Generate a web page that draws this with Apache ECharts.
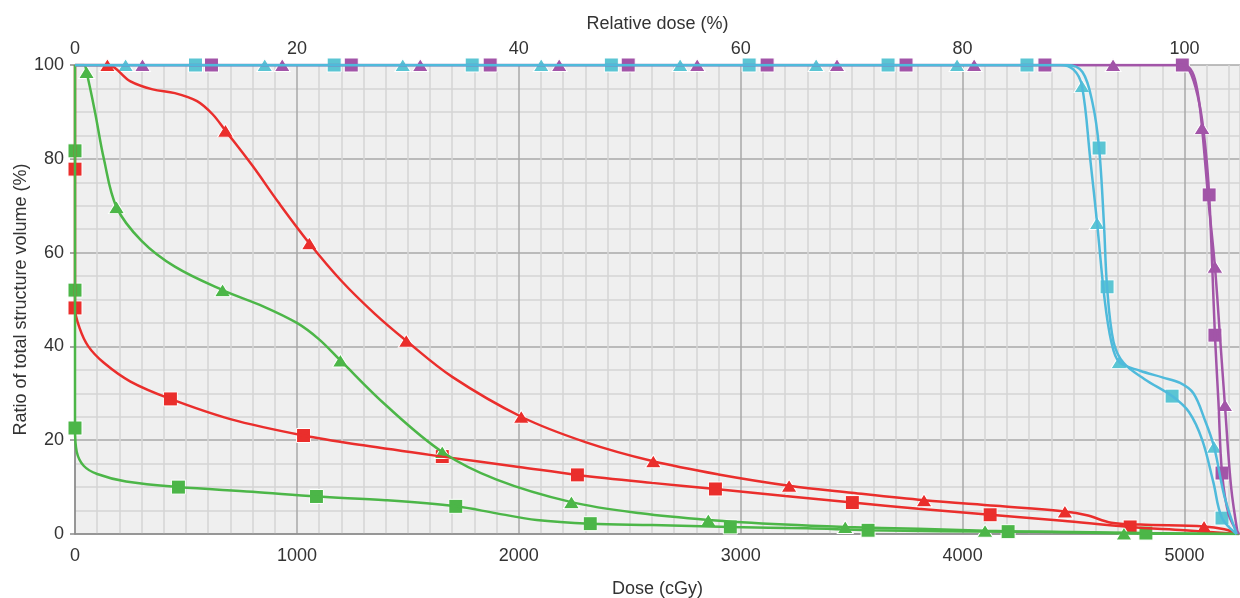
<!DOCTYPE html>
<html><head><meta charset="utf-8">
<script src="https://cdn.jsdelivr.net/npm/echarts@6/dist/echarts.min.js"></script>
<style>html,body{margin:0;padding:0;background:#fff}#c{width:1240px;height:598px}</style>
</head><body><div id="c"></div><script>
// Axis settings
const doseTicks = [0, 1000, 2000, 3000, 4000, 5000];
const relTicks = [0, 20, 40, 60, 80, 100];
const volTicks = [0, 20, 40, 60, 80, 100];

// Red, triangle markers
const redTriCurve = [[0,100],[146,100],[250,96.5],[350,94.8],[450,94],[550,92.3],[620,89.5],[678,86],[800,78.5],[920,70.5],[1056,62],[1200,54],[1350,47],[1493,41.2],[1700,33.5],[2011,25],[2300,19.6],[2606,15.5],[2900,12.7],[3218,10.3],[3500,8.8],[3826,7.2],[4150,6],[4461,4.8],[4560,4],[4670,2.4],[4800,2],[5088,1.6],[5180,1],[5245,0]];
const redTriMarks = [[146,100],[678,86],[1056,62],[1493,41.2],[2011,25],[2606,15.5],[3218,10.3],[3826,7.2],[4461,4.8],[5088,1.6]];

// Red, square markers
const redSqCurve = [[0,100],[0,77.8],[0,48.2],[20,44],[60,40],[130,36.5],[250,32.5],[430,28.8],[700,24.5],[1030,21],[1300,18.9],[1655,16.5],[2000,14.3],[2264,12.6],[2600,10.9],[2886,9.6],[3200,8.1],[3503,6.7],[3800,5.4],[4124,4.1],[4450,2.8],[4755,1.5],[5000,0.8],[5245,0]];
const redSqMarks = [[0,77.8],[0,48.2],[430,28.8],[1030,21],[1655,16.5],[2264,12.6],[2886,9.6],[3503,6.7],[4124,4.1],[4755,1.5]];

// Green, triangle markers
const greenTriCurve = [[0,100],[40,100],[52,98.5],[90,90],[130,80],[187,69.7],[300,62.5],[450,57],[665,52],[850,48.5],[1000,45],[1100,41.5],[1196,37],[1400,27.5],[1655,17.5],[1900,11.6],[2237,6.8],[2550,4.4],[2854,3],[3200,2],[3471,1.5],[3800,1.1],[4101,0.7],[4400,0.4],[4727,0.1],[5245,0]];
const greenTriMarks = [[52,98.5],[187,69.7],[665,52],[1196,37],[1655,17.5],[2237,6.8],[2854,3],[3471,1.5],[4101,0.7],[4727,0.1]];

// Green, square markers
const greenSqCurve = [[0,100],[0,81.7],[0,52],[0,22.6],[8,17.5],[40,14.5],[100,12.8],[230,11.2],[466,10],[800,9],[1088,8],[1400,7.2],[1716,5.9],[1900,4.4],[2080,3],[2322,2.2],[2600,1.9],[2953,1.5],[3300,1.2],[3574,0.8],[3900,0.6],[4205,0.5],[4500,0.4],[4826,0.2],[5245,0]];
const greenSqMarks = [[0,81.7],[0,52],[0,22.6],[466,10],[1088,8],[1716,5.9],[2322,2.2],[2953,1.5],[3574,0.8],[4205,0.5],[4826,0.2]];

// Purple, triangle markers
const purpleTriCurve = [[0,100],[4995,100],[5035,98.5],[5060,94],[5079,86.6],[5108,71],[5137,57],[5160,42],[5182,27.5],[5210,10],[5240,0]];
const purpleTriMarks = [[304,100],[934,100],[1556,100],[2182,100],[2804,100],[3434,100],[4052,100],[4678,100],[5079,86.6],[5137,57],[5182,27.5]];

// Purple, square markers
const purpleSqCurve = [[0,100],[4990,100],[5030,98],[5070,91],[5095,82],[5111,72.3],[5125,57],[5137,42.4],[5153,28],[5169,13],[5200,4],[5245,0]];
const purpleSqMarks = [[615,100],[1245,100],[1871,100],[2493,100],[3119,100],[3745,100],[4371,100],[4990,100],[5111,72.3],[5137,42.4],[5169,13]];

// Cyan, triangle markers
const cyanTriCurve = [[0,100],[4440,100],[4500,99],[4538,95.5],[4575,80],[4606,66.3],[4640,50],[4670,41],[4705,36.7],[4800,34.8],[4900,33.4],[4980,32.2],[5040,30],[5090,24.5],[5133,18.6],[5180,8],[5235,0]];
const cyanTriMarks = [[228,100],[855,100],[1477,100],[2101,100],[2727,100],[3340,100],[3975,100],[4538,95.5],[4606,66.3],[4705,36.7],[5133,18.6]];

// Cyan, square markers
const cyanSqCurve = [[0,100],[4470,100],[4540,98.5],[4585,92],[4615,82.3],[4637,66],[4651,52.7],[4680,41],[4725,36.5],[4820,33],[4944,29.4],[5020,26],[5080,20],[5130,11],[5169,3.4],[5235,0]];
const cyanSqMarks = [[543,100],[1168,100],[1790,100],[2417,100],[3038,100],[3664,100],[4290,100],[4615,82.3],[4651,52.7],[4944,29.4],[5169,3.4]];

const RED = '#ea2e2c', GREEN = '#4cb648', PURPLE = '#a255a8', CYAN = '#4fbadb', CYANM = '#5bc5d3';
const MAJOR = '#a9a9a9', MINOR = '#d5d5d5';

function lineSeries(data, color) {
  return { type: 'line', data: data, smooth: 0.35, symbol: 'none',
    lineStyle: { color: color, width: 2.5 }, silent: true, animation: false };
}
function markSeries(data, color, shape, size) {
  return { type: 'scatter', data: data, symbol: shape, symbolSize: size,
    itemStyle: { color: color, opacity: 1, borderColor: '#ffffff', borderWidth: 1 }, silent: true, animation: false };
}

const TRI = [16, 13], SQ = 14;
const structures = [
  [redTriCurve, redTriMarks, RED, RED, 'triangle', TRI],
  [redSqCurve, redSqMarks, RED, RED, 'rect', SQ],
  [greenTriCurve, greenTriMarks, GREEN, GREEN, 'triangle', TRI],
  [greenSqCurve, greenSqMarks, GREEN, GREEN, 'rect', SQ],
  [purpleTriCurve, purpleTriMarks, PURPLE, PURPLE, 'triangle', TRI],
  [purpleSqCurve, purpleSqMarks, PURPLE, PURPLE, 'rect', SQ],
  [cyanTriCurve, cyanTriMarks, CYAN, CYANM, 'triangle', TRI],
  [cyanSqCurve, cyanSqMarks, CYAN, CYANM, 'rect', SQ]
];
const series = [];
structures.forEach(s => {
  series.push(lineSeries(s[0], s[2]));
  series.push(markSeries(s[1], s[3], s[4], s[5]));
});

// vertical grid line colours cycle: one major line followed by nine minor lines
const xGridColors = [MAJOR].concat(new Array(9).fill(MINOR));

const FONT = 'Liberation Sans, Arial, Helvetica, sans-serif';
const FS = 18;
const chart = echarts.init(document.getElementById('c'), null, { renderer: 'canvas' });
chart.setOption({
  backgroundColor: '#ffffff',
  animation: false,
  grid: { left: 75, right: 0, top: 65, bottom: 64, show: true, backgroundColor: '#efefef', borderWidth: 0,
    containLabel: false, outerBoundsMode: 'none' },
  xAxis: [
    { type: 'value', position: 'bottom', min: doseTicks[0], max: 5250, interval: 100,
      name: 'Dose (cGy)', nameLocation: 'middle', nameGap: 46, nameMoveOverlap: false,
      nameTextStyle: { fontSize: FS, color: '#333', fontFamily: FONT },
      axisLine: { show: true, lineStyle: { color: '#8a8a8a', width: 1.5 } },
      axisTick: { show: false },
      axisLabel: { fontSize: FS, color: '#333', fontFamily: FONT, margin: 13, showMaxLabel: false,
        formatter: v => doseTicks.indexOf(v) >= 0 ? String(v) : '' },
      splitLine: { show: true, lineStyle: { color: xGridColors, width: 1.5 } } },
    { type: 'value', position: 'top', min: relTicks[0], max: 105, interval: relTicks[1] - relTicks[0],
      name: 'Relative dose (%)', nameLocation: 'middle', nameGap: 32, nameMoveOverlap: false,
      nameTextStyle: { fontSize: FS, color: '#333', fontFamily: FONT },
      axisLine: { show: false }, axisTick: { show: false },
      axisLabel: { fontSize: FS, color: '#333', fontFamily: FONT, margin: 7, showMaxLabel: false,
        formatter: v => relTicks.indexOf(v) >= 0 ? String(v) : '' },
      splitLine: { show: false } }
  ],
  yAxis: {
    type: 'value', min: volTicks[0], max: volTicks[volTicks.length - 1], interval: volTicks[1] - volTicks[0],
    name: 'Ratio of total structure volume (%)', nameLocation: 'middle', nameGap: 45, nameMoveOverlap: false,
    nameTextStyle: { fontSize: FS, color: '#333', fontFamily: FONT },
    axisLine: { show: true, lineStyle: { color: '#8a8a8a', width: 1.5 } },
    axisTick: { show: true, length: 5, lineStyle: { color: '#8a8a8a', width: 1.5 } },
    axisLabel: { fontSize: FS, color: '#333', fontFamily: FONT, margin: 11 },
    splitLine: { show: true, lineStyle: { color: MAJOR, width: 1.5 } },
    minorTick: { show: false, splitNumber: 4 },
    minorSplitLine: { show: true, lineStyle: { color: MINOR, width: 1.5 } }
  },
  series: series
});
</script></body></html>
